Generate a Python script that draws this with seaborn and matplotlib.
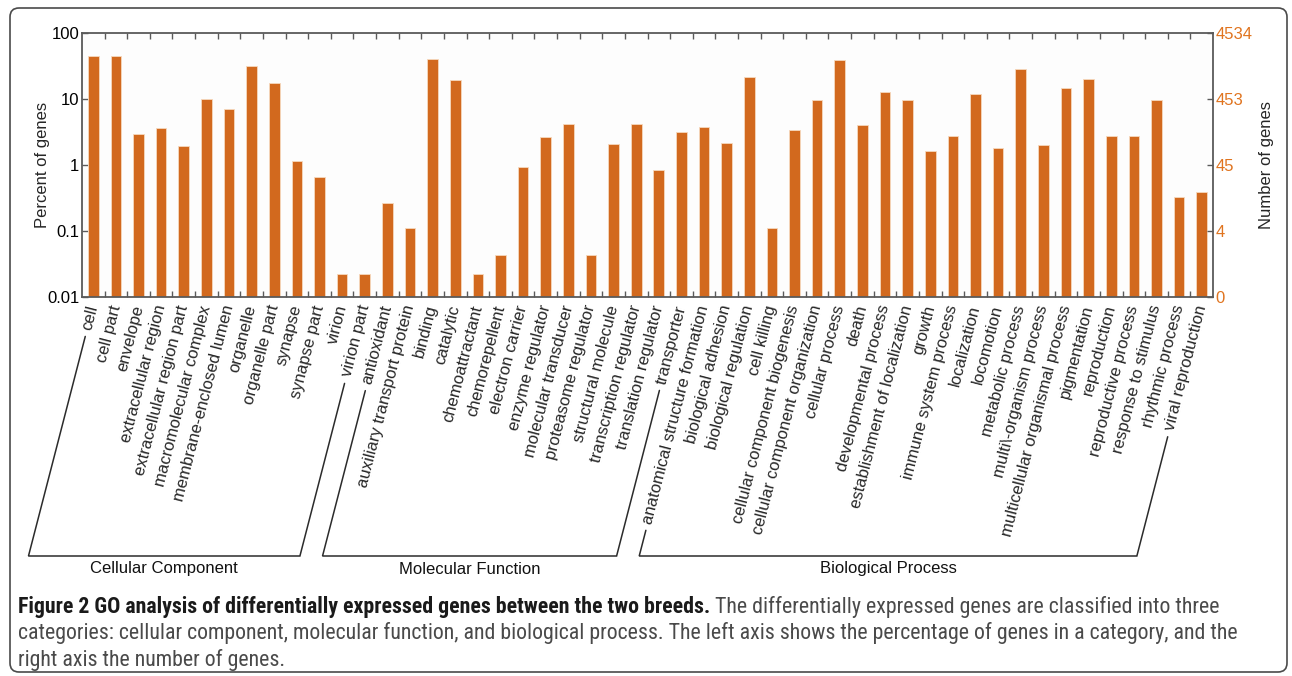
import numpy as np
import pandas as pd
import matplotlib
matplotlib.use("Agg")
import matplotlib.pyplot as plt
import seaborn as sns
from matplotlib.lines import Line2D
from matplotlib.patches import FancyBboxPatch
from matplotlib.font_manager import FontProperties, fontManager
from matplotlib.ticker import NullLocator, FixedLocator

# ---- GO terms and percentage of genes per term ----
cellular_component = [
    "cell", "cell part", "envelope", "extracellular region",
    "extracellular region part", "macromolecular complex",
    "membrane-enclosed lumen", "organelle", "organelle part", "synapse",
    "synapse part", "virion", "virion part",
]
cc_percent = [45.3, 45.0, 3.0, 3.67, 1.96, 9.9, 7.1, 32.0, 17.5, 1.14,
              0.66, 0.022, 0.022]

molecular_function = [
    "antioxidant", "auxiliary transport protein", "binding", "catalytic",
    "chemoattractant", "chemorepellent", "electron carrier",
    "enzyme regulator", "molecular transducer", "proteasome regulator",
    "structural molecule", "transcription regulator",
    "translation regulator", "transporter",
]
mf_percent = [0.265, 0.11, 40.0, 19.7, 0.022, 0.044, 0.94, 2.65, 4.2,
              0.044, 2.08, 4.2, 0.84, 3.13]

biological_process = [
    "anatomical structure formation", "biological adhesion",
    "biological regulation", "cell killing",
    "cellular component biogenesis", "cellular component organization",
    "cellular process", "death", "developmental process",
    "establishment of localization", "growth", "immune system process",
    "localization", "locomotion", "metabolic process",
    "multi\\-organism process", "multicellular organismal process",
    "pigmentation", "reproduction", "reproductive process",
    "response to stimulus", "rhythmic process", "viral reproduction",
]
bp_percent = [3.81, 2.13, 21.5, 0.11, 3.43, 9.67, 38.6, 4.04, 12.6, 9.67,
              1.65, 2.72, 11.8, 1.81, 28.1, 2.03, 14.9, 20.3, 2.75, 2.75,
              9.67, 0.327, 0.39]

group_names = ["Cellular Component", "Molecular Function", "Biological Process"]
total_genes = 4534
percent_ticks = [0.01, 0.1, 1, 10, 100]
percent_tick_labels = ["0.01", "0.1", "1", "10", "100"]

caption_bold = "Figure 2 GO analysis of differentially expressed genes between the two breeds."
caption_lines = [
    " The differentially expressed genes are classified into three",
    "categories: cellular component, molecular function, and biological process. The left axis shows the percentage of genes in a category, and the",
    "right axis the number of genes.",
]

# ---- styling ----
BAR = "#d2691e"
ORANGE = "#e0741f"
SPINE = "#5a5a5a"
FONT = ["Liberation Sans", "DejaVu Sans"]

sns.set_theme(style="white")
plt.rcParams["font.family"] = FONT

W, H, DPI = 1292, 676, 100
fig = plt.figure(figsize=(W / DPI, H / DPI), dpi=DPI)
fig.patch.set_facecolor("white")

ax = fig.add_axes([82 / W, 1 - 297 / H, 1131 / W, 264 / H])

groups = [cellular_component, molecular_function, biological_process]
values = [cc_percent, mf_percent, bp_percent]
terms = sum(groups, [])
df = pd.DataFrame({
    "term": terms,
    "percent": sum(values, []),
    "group": sum([[g] * len(t) for g, t in zip(group_names, groups)], []),
})

sns.barplot(data=df, x="term", y="percent", color=BAR, saturation=1,
            width=0.47, edgecolor="#f6d9bd", linewidth=0.6,
            log_scale=(False, True), ax=ax)
# bars start at zero, so clip rather than mask non-positive values
ax.set_yscale("log", nonpositive="clip")

n = len(terms)
ax.set_xlim(-0.5, n - 0.5)
ax.set_ylim(percent_ticks[0], percent_ticks[-1])
ax.set_xlabel("")
ax.set_facecolor("#fdfdfd")

# left axis: percent
ax.yaxis.set_major_locator(FixedLocator(percent_ticks))
ax.yaxis.set_minor_locator(NullLocator())
ax.set_yticklabels(percent_tick_labels, fontsize=12, color="black")
ax.tick_params(axis="y", which="major", direction="in", length=4,
               width=1, color=SPINE, pad=2, left=True)

# category labels along the bottom, ticks at category boundaries
ax.set_xticks(range(n))
ax.set_xticklabels(terms, rotation=75.5, ha="right", va="center",
                   rotation_mode="anchor", fontsize=12)
ax.tick_params(axis="x", which="major", length=0, pad=6)
ax.set_xticks(np.arange(0.5, n - 1, 1.0), minor=True)
ax.tick_params(axis="x", which="minor", direction="in", length=4, width=1,
               color=SPINE, top=True, bottom=True)

for sp in ax.spines.values():
    sp.set_visible(True)
    sp.set_color(SPINE)
    sp.set_linewidth(1.3)

ax.set_ylabel("Percent of genes", fontsize=12)
ax.yaxis.label.set_verticalalignment("center")
ax.yaxis.set_label_coords(-40 / 1131, 0.5)

# right axis: number of genes on the same log scale
ax2 = ax.twinx()
ax2.set_yscale("log")
ax2.set_ylim(ax.get_ylim())
ax2.yaxis.set_major_locator(FixedLocator(percent_ticks))
ax2.yaxis.set_minor_locator(NullLocator())
ax2.set_yticklabels([str(int(total_genes * p / 100)) for p in percent_ticks],
                    fontsize=12, color=ORANGE)
ax2.tick_params(axis="y", which="major", direction="in", length=4, width=1,
                color=SPINE, pad=2, right=True)
ax2.grid(False)
for sp in ax2.spines.values():
    sp.set_visible(False)
ax2.set_ylabel("Number of genes", fontsize=12, rotation=90)
ax2.yaxis.label.set_verticalalignment("center")
ax2.yaxis.set_label_coords(1 + 53 / 1131, 0.5)

# ---- group brackets following the slanted labels ----
fig.canvas.draw()
renderer = fig.canvas.get_renderer()
label_font = FontProperties(family=FONT, size=12)
theta = np.deg2rad(75.5)
direction = np.array([-np.cos(theta), -np.sin(theta)])
pad_px = 6 * DPI / 72
gap_px = 7
bottom_y = H - 556          # bracket baseline, display pixels
group_label_y = H - 569
to_fig = fig.transFigure.inverted()


def label_end(idx):
    x0, y0 = ax.transData.transform((idx, percent_ticks[0]))
    anchor = np.array([x0, y0 - pad_px])
    w, _, _ = renderer.get_text_width_height_descent(terms[idx], label_font, ismath=False)
    start = anchor + (w + gap_px) * direction
    t = (anchor[1] - bottom_y) / np.sin(theta)
    foot = anchor + t * direction
    return start, foot


first = 0
for name, items in zip(group_names, groups):
    last = first + len(items) - 1
    s0, f0 = label_end(first)
    s1, f1 = label_end(last)
    pts = np.array([s0, f0, f1, s1])
    fpts = to_fig.transform(pts)
    fig.add_artist(Line2D(fpts[:, 0], fpts[:, 1], transform=fig.transFigure,
                          color="#2b2b2b", lw=1.1, solid_joinstyle="miter"))
    cx = (f0[0] + f1[0]) / 2
    fig.text(cx / W, group_label_y / H, name, ha="center", va="center",
             fontsize=12, color="#111111")
    first = last + 1

# ---- caption (condensed face when one is installed) ----
def find_condensed():
    prefs = ["OpenSans_Condensed", "OpenSans-Condensed", "OpenSansCondensed",
             "NotoSans-Condensed", "NotoSansCondensed", "RobotoCondensed",
             "Roboto_Condensed", "Roboto-Condensed", "LiberationSansNarrow",
             "DejaVuSansCondensed"]
    files = [f.fname for f in fontManager.ttflist]
    skip = ("Italic", "Oblique", "Light", "Thin", "Medium", "Semi", "Extra",
            "Black", "Condensed-Bold", "Condensed_Bold")
    for key in prefs:
        cands = [f for f in files if key in f.replace(" ", "")]
        if not cands:
            continue
        reg = [f for f in cands if "Bold" not in f and not any(s in f for s in skip)]
        bold = [f for f in cands if "Bold" in f and not any(
            s in f for s in ("Italic", "Oblique", "Semi", "Extra"))]
        if reg and bold:
            return reg[0], bold[0]
    return None, None


reg_file, bold_file = find_condensed()


def cap_props(size, bold=False):
    if reg_file:
        return FontProperties(fname=bold_file if bold else reg_file, size=size)
    return FontProperties(family=["Open Sans"], size=size,
                          weight="bold" if bold else "normal")


w10, _, _ = renderer.get_text_width_height_descent(caption_lines[1], cap_props(10), ismath=False)
cap_size = 10 * 1218 / w10
bold_font = cap_props(cap_size, bold=True)
reg_font = cap_props(cap_size)
wb, _, _ = renderer.get_text_width_height_descent(caption_bold, bold_font, ismath=False)

cap_x = 18
baselines = [613, 639.5, 666]
fig.text(cap_x / W, 1 - baselines[0] / H, caption_bold, fontproperties=bold_font,
         color="#1a1a1a", ha="left", va="baseline")
fig.text((cap_x + wb) / W, 1 - baselines[0] / H, caption_lines[0],
         fontproperties=reg_font, color="#4a4a4a", ha="left", va="baseline")
for line, yb in zip(caption_lines[1:], baselines[1:]):
    fig.text(cap_x / W, 1 - yb / H, line, fontproperties=reg_font,
             color="#4a4a4a", ha="left", va="baseline")

# rounded frame around the figure panel
frame = FancyBboxPatch((10 / DPI, (H - 672) / DPI), 1277 / DPI, 664 / DPI,
                       boxstyle="round,pad=0,rounding_size=0.09",
                       transform=fig.dpi_scale_trans, fill=False,
                       edgecolor="#4a4a4a", lw=1.2)
fig.add_artist(frame)

fig.savefig("out.png", dpi=DPI, facecolor="white")
